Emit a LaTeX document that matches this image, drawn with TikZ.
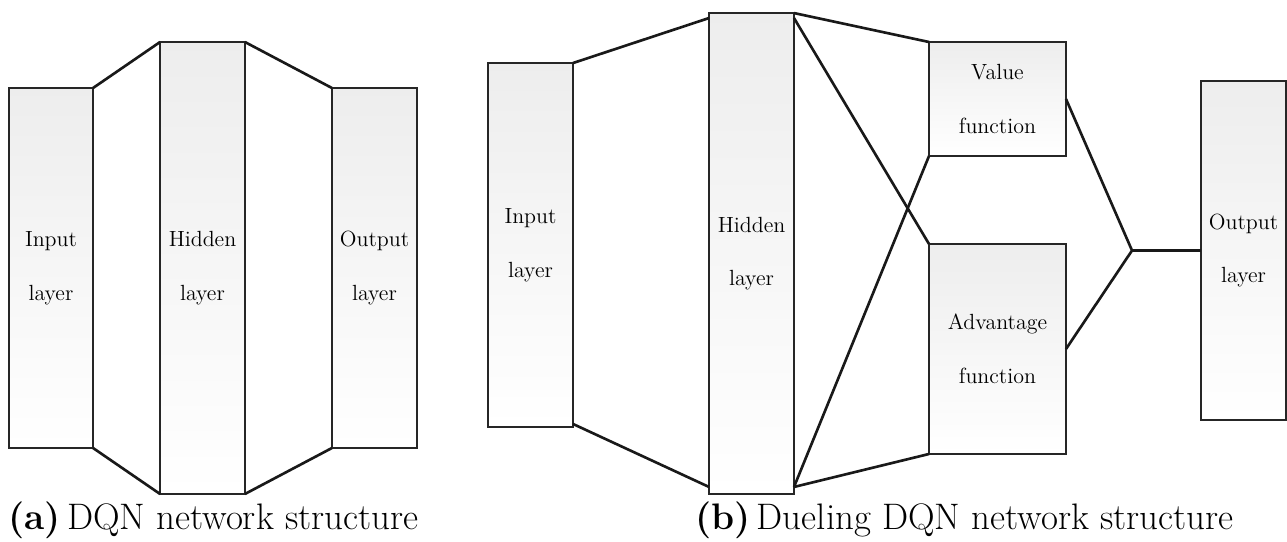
\documentclass[tikz,border=0pt]{standalone}
\usepackage{fontspec}
\usetikzlibrary{calc,positioning}
\begin{document}
\begin{tikzpicture}[x=0.02cm,y=-0.02cm,
    layer/.style={draw=black!85,line width=1.1pt,rectangle,inner sep=0pt,outer sep=0pt,
      top color=black!7,bottom color=white,align=center,
      font=\rmfamily\fontsize{12.5}{30.6}\selectfont},
    wire/.style={draw=black!90,line width=1.5pt},
    capt/.style={anchor=west,inner sep=0pt,font=\fontsize{21}{24}\selectfont}]
  \useasboundingbox (0,0) rectangle (1287,541);
  \begin{scope}
    \node[layer,minimum width=1.68cm,minimum height=7.2cm] (ain) at (51,268) {Input\\layer};
    \node[layer,minimum width=1.7cm,minimum height=9.04cm] (ahid) at (202.5,268) {Hidden\\layer};
    \node[layer,minimum width=1.7cm,minimum height=7.2cm] (aout) at (374.5,268) {Output\\layer};
    \draw[wire] (ain.north east) -- (ahid.north west);
    \draw[wire] (ahid.north east) -- (aout.north west);
    \draw[wire] (ain.south east) -- (ahid.south west);
    \draw[wire] (ahid.south east) -- (aout.south west);
    \node[capt] (acapt) at (8,520) {\textbf{(a)}\,DQN network structure};
  \end{scope}
  \begin{scope}
    \node[layer,minimum width=1.7cm,minimum height=7.28cm] (bin) at (530.5,245) {Input\\layer};
    \node[layer,minimum width=1.7cm,minimum height=9.62cm] (bhid) at (751.5,253.5) {Hidden\\layer};
    \node[layer,minimum width=2.74cm,minimum height=2.28cm] (val) at (997.5,99) {Value\\function};
    \node[layer,minimum width=2.74cm,minimum height=4.2cm] (adv) at (997.5,349) {Advantage\\function};
    \node[layer,minimum width=1.7cm,minimum height=6.78cm] (bout) at (1243.5,250.5) {Output\\layer};
    \coordinate (junc) at (1132,250.5);
    \draw[wire] (bin.north east) -- ([yshift=-0.1cm]bhid.north west);
    \draw[wire] ([yshift=0.06cm]bin.south east) -- ([yshift=0.14cm]bhid.south west);
    \draw[wire] (bhid.north east) -- (val.north west);
    \draw[wire] ([yshift=-0.1cm]bhid.north east) -- (adv.north west);
    \draw[wire] ([yshift=0.14cm]bhid.south east) -- (val.south west);
    \draw[wire] ([yshift=0.14cm]bhid.south east) -- (adv.south west);
    \draw[wire] (val.east) -- (junc) -- (adv.east);
    \draw[wire] (junc) -- (bout.west);
    \node[capt] (bcapt) at (695,520) {\textbf{(b)}\,Dueling DQN network structure};
  \end{scope}
\end{tikzpicture}
\end{document}
